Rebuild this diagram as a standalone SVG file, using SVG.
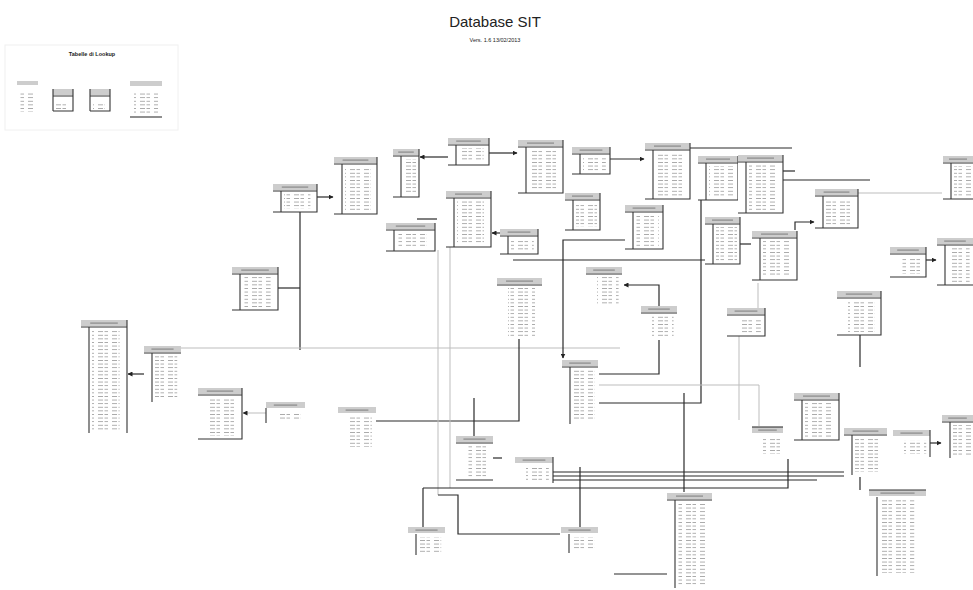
<svg xmlns="http://www.w3.org/2000/svg" width="973" height="590" viewBox="0 0 973 590">
<style>
.b{fill:#fff}
.h{fill:#cdcdcd}
.ht{fill:#8a8a8a}
.e{fill:none;stroke:#333;stroke-width:1.1}
.r{fill:url(#rows)}
.c{fill:none;stroke:#2a2a2a;stroke-width:1.2}
.cl{fill:none;stroke:#bdbdbd;stroke-width:1}
.ttl{font-family:"Liberation Sans",Arial,sans-serif;fill:#222}
</style>
<defs>
<pattern id="rows" width="14" height="3.6" patternUnits="userSpaceOnUse"><rect width="5" height="0.9" fill="#a6a6a6"/><rect x="6.5" width="3.5" height="0.9" fill="#a6a6a6"/></pattern>
<marker id="ar" markerWidth="5" markerHeight="5" refX="4.5" refY="2.5" orient="auto" markerUnits="userSpaceOnUse"><path d="M0,0 L5,2.5 L0,5 z" fill="#222"/></marker>
</defs>
<rect width="973" height="590" fill="#fff"/>
<text class="ttl" x="495" y="27" font-size="15" text-anchor="middle">Database SIT</text>
<text class="ttl" x="495" y="42" font-size="5.5" text-anchor="middle" fill="#555">Vers. 1.6 13/02/2013</text>

<g id="lookup">
<rect x="5" y="45" width="173" height="85" fill="none" stroke="#f0f0f0" stroke-width="1"/>
<text class="ttl" x="92" y="56" font-size="5.5" font-weight="bold" text-anchor="middle">Tabelle di Lookup</text>
<g id="lk1"><rect class="h" x="17" y="81" width="21" height="4"/><rect class="r" x="19" y="92" width="15" height="20"/></g>
<g id="lk2"><rect class="b" x="53" y="89" width="20" height="22"/><rect class="h" x="53" y="89" width="20" height="6"/><path class="e" d="M73 89V111H53M53 96H73M53 89V111"/><rect class="r" x="56" y="103" width="12" height="6"/></g>
<g id="lk3"><rect class="b" x="90" y="89" width="20" height="22"/><rect class="h" x="90" y="89" width="20" height="6"/><path class="e" d="M110 89V111H90M90 96H110M90 89V111"/><rect class="r" x="93" y="103" width="12" height="6"/></g>
<g id="lk4"><rect class="h" x="130" y="81" width="32" height="5"/><rect class="r" x="134" y="92" width="24" height="22"/><path class="e" d="M130 117H162"/></g>
</g>

<g id="connectors">
<path class="c" d="M317 197H333" marker-end="url(#ar)"/>
<path class="c" d="M448 157H420" marker-end="url(#ar)"/>
<path class="c" d="M489 153H517" marker-end="url(#ar)"/>
<path class="c" d="M417 219H437"/>
<path class="c" d="M505 233H492" marker-end="url(#ar)"/>
<path class="c" d="M300 212V350"/>
<path class="c" d="M278 288H300"/>
<path class="cl" d="M181 348H620" stroke="#999"/>
<path class="c" d="M144 374H128" marker-end="url(#ar)"/>
<path class="cl" d="M266 413H243" stroke="#888" marker-end="url(#ar)"/>
<path class="c" d="M519 339V421H376"/>
<path class="c" d="M474 398V436"/>
<path class="c" d="M625 240H563V358" marker-end="url(#ar)"/>
<path class="c" d="M701 200V403H599"/>
<path class="c" d="M659 306V285H624" marker-end="url(#ar)"/>
<path class="c" d="M659 340V374H599"/>
<path class="c" d="M513 260H740"/>
<path class="c" d="M610 159H644" stroke="#aaa" marker-end="url(#ar)"/>
<path class="c" d="M690 148H792"/>
<path class="c" d="M783 180H870"/>
<path class="c" d="M783 171H795"/>
<path class="c" d="M795 230V222H814" marker-end="url(#ar)"/>
<path class="cl" d="M858 193H942" stroke="#888"/>
<path class="c" d="M740 244H751"/>
<path class="c" d="M926 260H936" stroke="#999" marker-end="url(#ar)"/>
<path class="cl" d="M758 283V308"/>
<path class="cl" d="M739 336V420"/>
<path class="c" d="M860 335V367"/>
<path class="cl" d="M599 385H759V426"/>
<path class="c" d="M684 393V492"/>
<path class="cl" d="M438 250V495"/>
<path class="cl" d="M450 247V488"/>
<path class="c" d="M553 472H844"/>
<path class="c" d="M553 476H844" stroke="#888"/>
<path class="c" d="M553 480H817"/>
<path class="c" d="M423 488H788V459"/>
<path class="c" d="M423 488V527"/>
<path class="c" d="M493 458H502" stroke="#999"/>
<path class="c" d="M438 495H458V534H560"/>
<path class="c" d="M580 467V527"/>
<path class="c" d="M614 574H667"/>
<path class="c" d="M930 443H941" stroke="#999" marker-end="url(#ar)"/>
<path class="c" d="M860 477V490"/>
</g>

<g id="tA"><rect class="b" x="273" y="184" width="44" height="28"/><rect class="h" x="273" y="184" width="44" height="6"/><rect class="ht" x="281.8" y="186.5" width="26.4" height="1.2"/><path class="e" d="M317 184V212H273M273 191H317M281 191V212"/><rect class="r" x="284" y="194" width="26.4" height="15"/></g>
<g id="tB"><rect class="b" x="334" y="157" width="43" height="57"/><rect class="h" x="334" y="157" width="43" height="6"/><rect class="ht" x="342.6" y="159.5" width="25.8" height="1.2"/><path class="e" d="M377 157V214H334M334 164H377M342 164V214"/><rect class="r" x="345" y="167" width="25.8" height="44"/></g>
<g id="tC"><rect class="b" x="393" y="149" width="26" height="48"/><rect class="h" x="393" y="149" width="26" height="6"/><rect class="ht" x="398.2" y="151.5" width="15.6" height="1.2"/><path class="e" d="M419 149V197H393M393 156H419M401 156V197"/><rect class="r" x="404" y="159" width="13" height="35"/></g>
<g id="tD"><rect class="b" x="448" y="138" width="41" height="27"/><rect class="h" x="448" y="138" width="41" height="6"/><rect class="ht" x="456.2" y="140.5" width="24.6" height="1.2"/><path class="e" d="M489 138V165H448M448 145H489M456 145V165"/><rect class="r" x="459" y="148" width="24.6" height="14"/></g>
<g id="tE"><rect class="b" x="386" y="223" width="49" height="28"/><rect class="h" x="386" y="223" width="49" height="6"/><rect class="ht" x="395.8" y="225.5" width="29.4" height="1.2"/><path class="e" d="M435 223V251H386M386 230H435M394 230V251"/><rect class="r" x="397" y="233" width="29.4" height="15"/></g>
<g id="tF"><rect class="b" x="446" y="191" width="45" height="56"/><rect class="h" x="446" y="191" width="45" height="6"/><rect class="ht" x="455" y="193.5" width="27" height="1.2"/><path class="e" d="M491 191V247H446M446 198H491M454 198V247"/><rect class="r" x="457" y="201" width="27" height="43"/></g>
<g id="tG"><rect class="b" x="500" y="229" width="38" height="25"/><rect class="h" x="500" y="229" width="38" height="6"/><rect class="ht" x="507.6" y="231.5" width="22.8" height="1.2"/><path class="e" d="M538 229V254H500M500 236H538M508 236V254"/><rect class="r" x="511" y="239" width="22.8" height="12"/></g>
<g id="tH"><rect class="b" x="518" y="140" width="45" height="53"/><rect class="h" x="518" y="140" width="45" height="6"/><rect class="ht" x="527" y="142.5" width="27" height="1.2"/><path class="e" d="M563 140V193H518M518 147H563M526 147V193"/><rect class="r" x="529" y="150" width="27" height="40"/></g>
<g id="tI"><rect class="b" x="572" y="147" width="38" height="27"/><rect class="h" x="572" y="147" width="38" height="6"/><rect class="ht" x="579.6" y="149.5" width="22.8" height="1.2"/><path class="e" d="M610 147V174H572M572 154H610M580 154V174"/><rect class="r" x="583" y="157" width="22.8" height="14"/></g>
<g id="tJ"><rect class="b" x="645" y="143" width="45" height="56"/><rect class="h" x="645" y="143" width="45" height="6"/><rect class="ht" x="654" y="145.5" width="27" height="1.2"/><path class="e" d="M690 143V199H645M645 150H690M653 150V199"/><rect class="r" x="656" y="153" width="27" height="43"/></g>
<g id="tK1"><rect class="b" x="698" y="156" width="40" height="44"/><rect class="h" x="698" y="156" width="40" height="6"/><rect class="ht" x="706" y="158.5" width="24" height="1.2"/><path class="e" d="M738 156V200H698M698 163H738M706 163V200"/><rect class="r" x="709" y="166" width="24" height="31"/></g>
<g id="tK2"><rect class="b" x="738" y="155" width="45" height="58"/><rect class="h" x="738" y="155" width="45" height="6"/><rect class="ht" x="747" y="157.5" width="27" height="1.2"/><path class="e" d="M783 155V213H738M738 162H783M746 162V213"/><rect class="r" x="749" y="165" width="27" height="45"/></g>
<g id="tL"><rect class="b" x="565" y="193" width="35" height="37"/><rect class="h" x="565" y="193" width="35" height="6"/><rect class="ht" x="572" y="195.5" width="21" height="1.2"/><path class="e" d="M600 193V230H565M565 200H600M573 200V230"/><rect class="r" x="576" y="203" width="21" height="24"/></g>
<g id="tM"><rect class="b" x="625" y="205" width="38" height="44"/><rect class="h" x="625" y="205" width="38" height="6"/><rect class="ht" x="632.6" y="207.5" width="22.8" height="1.2"/><path class="e" d="M663 205V249H625M625 212H663M633 212V249"/><rect class="r" x="636" y="215" width="22.8" height="31"/></g>
<g id="tN"><rect class="b" x="705" y="217" width="35" height="47"/><rect class="h" x="705" y="217" width="35" height="6"/><rect class="ht" x="712" y="219.5" width="21" height="1.2"/><path class="e" d="M740 217V264H705M705 224H740M713 224V264"/><rect class="r" x="716" y="227" width="21" height="34"/></g>
<g id="tO"><rect class="b" x="815" y="189" width="43" height="39"/><rect class="h" x="815" y="189" width="43" height="6"/><rect class="ht" x="823.6" y="191.5" width="25.8" height="1.2"/><path class="e" d="M858 189V228H815M815 196H858M823 196V228"/><rect class="r" x="826" y="199" width="25.8" height="26"/></g>
<g id="tP"><rect class="b" x="943" y="156" width="30" height="43"/><rect class="h" x="943" y="156" width="30" height="6"/><rect class="ht" x="949" y="158.5" width="18" height="1.2"/><path class="e" d="M943 199H973M943 163H973M951 163V199"/><rect class="r" x="954" y="166" width="18" height="30"/></g>
<g id="tQ"><rect class="b" x="752" y="231" width="45" height="49"/><rect class="h" x="752" y="231" width="45" height="6"/><rect class="ht" x="761" y="233.5" width="27" height="1.2"/><path class="e" d="M797 231V280H752M752 238H797M760 238V280"/><rect class="r" x="763" y="241" width="27" height="36"/></g>
<g id="tR"><rect class="b" x="890" y="247" width="36" height="30"/><rect class="h" x="890" y="247" width="36" height="6"/><rect class="ht" x="897.2" y="249.5" width="21.6" height="1.2"/><path class="e" d="M926 247V277H890M890 254H926"/><rect class="r" x="901" y="257" width="21.6" height="17"/></g>
<g id="tS"><rect class="b" x="937" y="238" width="36" height="47"/><rect class="h" x="937" y="238" width="36" height="6"/><rect class="ht" x="944.2" y="240.5" width="21.6" height="1.2"/><path class="e" d="M937 285H973M937 245H973M945 245V285"/><rect class="r" x="948" y="248" width="21.6" height="34"/></g>
<g id="tT"><rect class="b" x="232" y="267" width="46" height="43"/><rect class="h" x="232" y="267" width="46" height="6"/><rect class="ht" x="241.2" y="269.5" width="27.6" height="1.2"/><path class="e" d="M278 267V310H232M232 274H278M240 274V310"/><rect class="r" x="243" y="277" width="27.6" height="30"/></g>
<g id="tU"><rect class="b" x="81" y="320" width="46" height="113"/><rect class="h" x="81" y="320" width="46" height="6"/><rect class="ht" x="90.2" y="322.5" width="27.6" height="1.2"/><path class="e" d="M127 320V433M81 327H127M89 327V433"/><rect class="r" x="92" y="330" width="27.6" height="100"/></g>
<g id="tV"><rect class="b" x="144" y="346" width="37" height="56"/><rect class="h" x="144" y="346" width="37" height="6"/><rect class="ht" x="151.4" y="348.5" width="22.2" height="1.2"/><path class="e" d="M144 353H181M152 353V402"/><rect class="r" x="155" y="356" width="22.2" height="43"/></g>
<g id="tW"><rect class="b" x="198" y="388" width="44" height="51"/><rect class="h" x="198" y="388" width="44" height="6"/><rect class="ht" x="206.8" y="390.5" width="26.4" height="1.2"/><path class="e" d="M242 388V439H198M198 395H242"/><rect class="r" x="209" y="398" width="26.4" height="38"/></g>
<g id="tX"><rect class="b" x="266" y="402" width="39" height="21"/><rect class="h" x="266" y="402" width="39" height="6"/><rect class="ht" x="273.8" y="404.5" width="23.4" height="1.2"/><path class="e" d="M266 408V423"/><rect class="r" x="277" y="412" width="23.4" height="8"/></g>
<g id="tOrd"><rect class="b" x="497" y="278" width="45" height="61"/><rect class="h" x="497" y="278" width="45" height="6"/><rect class="ht" x="506" y="280.5" width="27" height="1.2"/><path class="e" d="M497 285H542"/><rect class="r" x="508" y="288" width="27" height="48"/></g>
<g id="tY"><rect class="b" x="586" y="267" width="36" height="41"/><rect class="h" x="586" y="267" width="36" height="6"/><rect class="ht" x="593.2" y="269.5" width="21.6" height="1.2"/><path class="e" d="M586 274H622"/><rect class="r" x="597" y="277" width="21.6" height="28"/></g>
<g id="tZ"><rect class="b" x="562" y="360" width="36" height="64"/><rect class="h" x="562" y="360" width="36" height="6"/><rect class="ht" x="569.2" y="362.5" width="21.6" height="1.2"/><path class="e" d="M562 367H598M570 367V424"/><rect class="r" x="573" y="370" width="21.6" height="51"/></g>
<g id="tAA"><rect class="b" x="641" y="306" width="36" height="34"/><rect class="h" x="641" y="306" width="36" height="6"/><rect class="ht" x="648.2" y="308.5" width="21.6" height="1.2"/><path class="e" d="M641 313H677"/><rect class="r" x="652" y="316" width="21.6" height="21"/></g>
<g id="tAB"><rect class="b" x="727" y="308" width="38" height="28"/><rect class="h" x="727" y="308" width="38" height="6"/><rect class="ht" x="734.6" y="310.5" width="22.8" height="1.2"/><path class="e" d="M765 308V336H727M727 315H765"/><rect class="r" x="738" y="318" width="22.8" height="15"/></g>
<g id="tAC"><rect class="b" x="837" y="291" width="44" height="44"/><rect class="h" x="837" y="291" width="44" height="6"/><rect class="ht" x="845.8" y="293.5" width="26.4" height="1.2"/><path class="e" d="M881 291V335H837M837 298H881"/><rect class="r" x="848" y="301" width="26.4" height="31"/></g>
<g id="tAD"><rect class="b" x="794" y="393" width="45" height="47"/><rect class="h" x="794" y="393" width="45" height="6"/><rect class="ht" x="803" y="395.5" width="27" height="1.2"/><path class="e" d="M839 393V440H794M794 400H839M802 400V440"/><rect class="r" x="805" y="403" width="27" height="34"/></g>
<g id="tAE"><rect class="b" x="338" y="407" width="38" height="43"/><rect class="h" x="338" y="407" width="38" height="6"/><rect class="ht" x="345.6" y="409.5" width="22.8" height="1.2"/><rect class="r" x="349" y="417" width="22.8" height="30"/></g>
<g id="tAF"><rect class="b" x="456" y="436" width="37" height="44"/><rect class="h" x="456" y="436" width="37" height="6"/><rect class="ht" x="463.4" y="438.5" width="22.2" height="1.2"/><path class="e" d="M456 443H493M456 480H493"/><rect class="r" x="467" y="446" width="22.2" height="31"/></g>
<g id="tAG"><rect class="b" x="515" y="457" width="38" height="26"/><rect class="h" x="515" y="457" width="38" height="6"/><rect class="ht" x="522.6" y="459.5" width="22.8" height="1.2"/><path class="e" d="M553 457V483"/><rect class="r" x="526" y="467" width="22.8" height="13"/></g>
<g id="tAH"><rect class="b" x="408" y="527" width="37" height="28"/><rect class="h" x="408" y="527" width="37" height="6"/><rect class="ht" x="415.4" y="529.5" width="22.2" height="1.2"/><path class="e" d="M416 534V555"/><rect class="r" x="419" y="537" width="22.2" height="15"/></g>
<g id="tAI"><rect class="b" x="561" y="527" width="37" height="26"/><rect class="h" x="561" y="527" width="37" height="6"/><rect class="ht" x="568.4" y="529.5" width="22.2" height="1.2"/><path class="e" d="M569 534V553"/><rect class="r" x="572" y="537" width="22.2" height="13"/></g>
<g id="tAJ"><rect class="b" x="667" y="493" width="45" height="95"/><rect class="h" x="667" y="493" width="45" height="6"/><rect class="ht" x="676" y="495.5" width="27" height="1.2"/><path class="e" d="M667 500H712M675 500V588"/><rect class="r" x="678" y="503" width="27" height="82"/></g>
<g id="tAK"><rect class="b" x="752" y="427" width="31" height="30"/><rect class="h" x="752" y="427" width="31" height="6"/><rect class="ht" x="758.2" y="429.5" width="18.6" height="1.2"/><path class="e" d="M752 427H783"/><rect class="r" x="763" y="437" width="18.6" height="17"/></g>
<g id="tAL"><rect class="b" x="844" y="428" width="43" height="47"/><rect class="h" x="844" y="428" width="43" height="6"/><rect class="ht" x="852.6" y="430.5" width="25.8" height="1.2"/><path class="e" d="M844 435H887M852 435V475"/><rect class="r" x="855" y="438" width="25.8" height="34"/></g>
<g id="tAM"><rect class="b" x="893" y="430" width="37" height="27"/><rect class="h" x="893" y="430" width="37" height="6"/><rect class="ht" x="900.4" y="432.5" width="22.2" height="1.2"/><path class="e" d="M930 430V457"/><rect class="r" x="904" y="440" width="22.2" height="14"/></g>
<g id="tAN"><rect class="b" x="942" y="415" width="31" height="43"/><rect class="h" x="942" y="415" width="31" height="6"/><rect class="ht" x="948.2" y="417.5" width="18.6" height="1.2"/><path class="e" d="M942 422H973M950 422V458"/><rect class="r" x="953" y="425" width="18.6" height="30"/></g>
<g id="tAO"><rect class="b" x="869" y="490" width="57" height="86"/><rect class="h" x="869" y="490" width="57" height="6"/><rect class="ht" x="880.4" y="492.5" width="34.2" height="1.2"/><path class="e" d="M869 490H926M877 497V576"/><rect class="r" x="880" y="500" width="34.2" height="73"/></g>
</svg>
